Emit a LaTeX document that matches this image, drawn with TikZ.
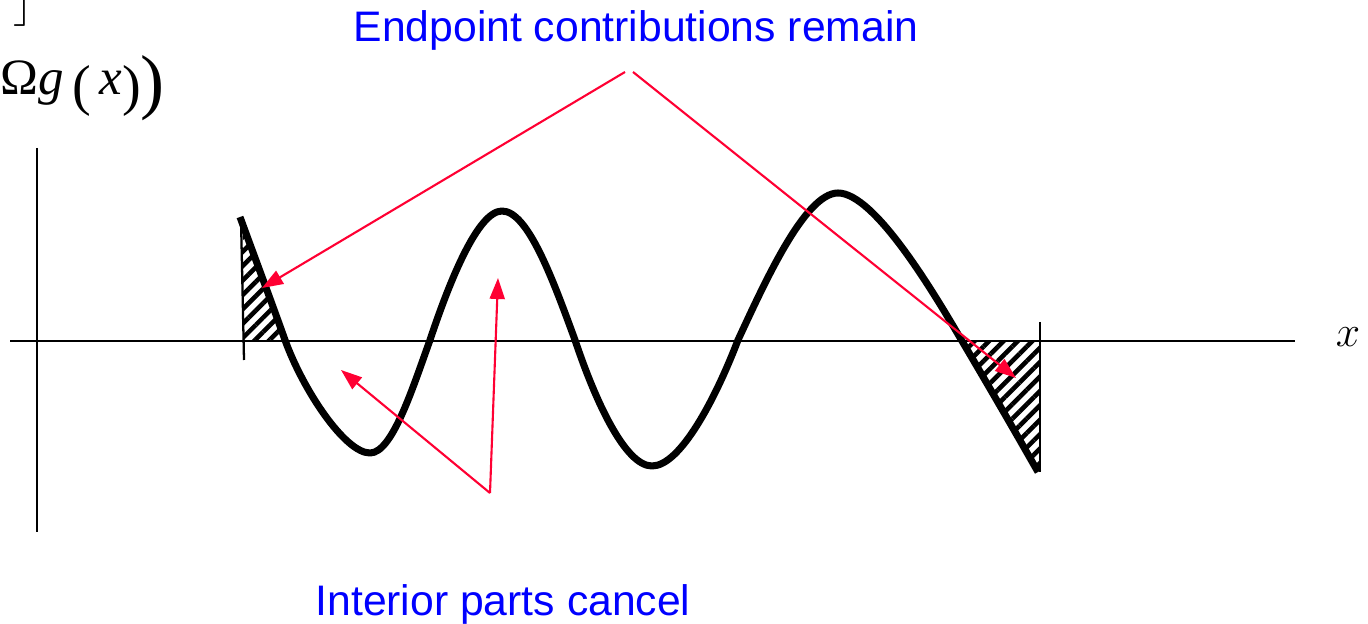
\documentclass[tikz,border=0pt]{standalone}
\usepackage{fontspec}
\setmainfont{Liberation Sans}
\newfontfamily\formfont{Liberation Serif}
\usetikzlibrary{arrows.meta, patterns.meta, positioning}
\definecolor{notered}{RGB}{255,0,51}
\definecolor{noteblue}{RGB}{0,0,255}
\newcommand\bigparen[3]{\raisebox{#2}{\fontsize{#1}{#1}\selectfont #3}}

\begin{document}
\begin{tikzpicture}[
    x=0.02cm, y=-0.02cm,
    note/.style={text=noteblue, font=\fontsize{24.3}{28}\selectfont, inner sep=0pt},
    pointer/.style={-{Triangle[length=0.42cm, width=0.3cm]}, line width=1.2pt, color=notered},
    hatch/.style={pattern={Lines[angle=45, distance=5.8pt, line width=2.6pt]}},
    wave/.style={line width=4pt, line join=round}
]
\useasboundingbox (0,0) rectangle (1368,624);

% axes
\draw[line width=1.3pt] (10,341) -- (1295,341);
\draw[line width=1.3pt] (37,148) -- (37,532);
\node (xlabel) at (1348,337) {\fontsize{29}{30}\selectfont$x$};
\node[anchor=base west, inner sep=0pt] (fofx) at (0,95)
    {\formfont\fontsize{29}{30}\selectfont Ω\textit{g}\,\bigparen{32}{-0.2cm}{(}\,\textit{x}\bigparen{32}{-0.2cm}{)}\bigparen{41}{-0.21cm}{)}};
\node[anchor=south east, inner sep=0pt] (brk) at (33,27) {\fontsize{30}{32}\selectfont$\rfloor$};

% endpoint regions
\fill[hatch] (243,219) -- (285,341) -- (243,341) -- cycle;
\fill[hatch] (962,341) -- (1040,341) -- (1040,470) -- cycle;
\draw[line width=1.3pt] (241,219) -- (244,360);
\draw[line width=1.3pt] (1040,322) -- (1040,472);

% the wave
\draw[wave] (240,217) .. controls (255,258) and (270,298) .. (285,340)
    .. controls (303,390) and (345,453) .. (370,453)
    .. controls (392,453) and (412,390) .. (430,340)
    .. controls (450,280) and (478,211) .. (502,211)
    .. controls (528,211) and (553,280) .. (575,340)
    .. controls (595,400) and (625,466) .. (652,466)
    .. controls (680,466) and (715,400) .. (738,340)
    .. controls (765,282) and (805,193) .. (838,193)
    .. controls (875,193) and (935,295) .. (962,341)
    .. controls (988,385) and (1013,428) .. (1038,472);

% labels
\node[note] (endpt) at (636,30) {Endpoint contributions remain};
\node[note] (inter) at (503,604) {Interior parts cancel};

\coordinate (endptL) at (625,72);
\coordinate (endptR) at (633,72);
\coordinate (interC) at (490,493);
\coordinate (tipL) at (262,288);
\coordinate (tipR) at (1016,378);
\coordinate (tipA) at (341,370);
\coordinate (tipB) at (498,278);

\draw[pointer] (endptL) -- (tipL);
\draw[pointer] (endptR) -- (tipR);
\draw[pointer] (interC) -- (tipA);
\draw[pointer] (interC) -- (tipB);
\end{tikzpicture}
\end{document}
